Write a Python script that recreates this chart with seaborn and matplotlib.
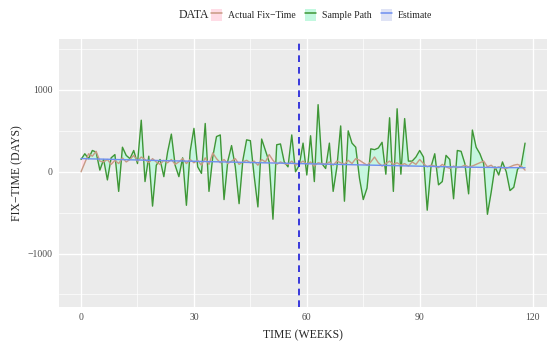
"""
Fix-time series: actual values, a simulated sample path and the estimate,
drawn in a ggplot-like style with seaborn.
"""

import numpy as np
import pandas as pd
import seaborn as sns
import matplotlib.pyplot as plt
from matplotlib.lines import Line2D
from matplotlib.patches import Patch

weeks = list(range(119))

actual = [0, 110, 220, 190, 250, 130, 120, 150, 90, 140,
          100, 170, 120, 150, 200, 130, 180, 150, 110, 160,
          120, 90, 140, 110, 150, 90, 120, 160, 100, 150,
          110, 140, 80, 170, 90, 230, 160, 110, 150, 100,
          130, 160, 90, 120, 140, 110, 130, 80, 150, 120,
          210, 140, 90, 120, 100, 90, 130, 80, 100, 130,
          90, 120, 70, 110, 100, 90, 120, 80, 130, 110,
          90, 140, 100, 160, 140, 110, 80, 120, 180, 110,
          70, 100, 130, 90, 110, 80, 100, 70, 120, 90,
          150, 100, 60, 80, 70, 50, 90, 60, 40, 70,
          50, 60, 80, 60, 70, 90, 110, 130, 60, 80,
          40, 60, 50, 40, 60, 80, 90, 70, 20]

sample = [150, 220, 160, 260, 240, 20, 150, -100, 170, 210,
          -240, 300, 200, 160, 260, 100, 630, -120, 190, -420,
          80, 150, -60, 240, 460, 80, -60, 170, -410, 250,
          530, 60, -20, 590, -240, 180, 430, 450, -340, 130,
          320, 60, -390, 140, 390, 380, -50, -430, 400, 260,
          120, -580, 330, 340, 120, 60, 450, 0, 80, 350,
          -40, 440, -120, 820, 100, 40, 350, -240, 60, 560,
          -360, 500, 350, 300, -80, -340, -200, 280, 270, 290,
          360, -30, 660, -240, 770, -30, 650, 130, 130, 180,
          260, 180, -470, 60, 220, -160, -120, 200, 150, -330,
          260, 250, 100, -270, 510, 300, 220, 100, -520, -250,
          60, -40, 120, 0, -230, -190, 30, 80, 350]

estimate = [162, 160, 158, 157, 156, 155, 154, 153, 152, 150,
            149, 148, 147, 146, 145, 144, 143, 141, 140, 139,
            138, 137, 136, 135, 134, 133, 132, 131, 130, 129,
            128, 127, 126, 125, 124, 123, 122, 121, 120, 119,
            118, 117, 116, 115, 114, 113, 112, 111, 110, 109,
            108, 107, 106, 105, 104, 103, 102, 101, 100, 99,
            98, 97, 96, 95, 94, 93, 92, 91, 90, 89,
            88, 87, 86, 85, 84, 83, 82, 81, 80, 79,
            78, 77, 76, 75, 74, 73, 72, 71, 70, 69,
            68, 67, 66, 65, 64, 63, 62, 61, 60, 59,
            58, 57, 56, 56, 55, 55, 54, 54, 53, 53,
            52, 52, 51, 51, 50, 50, 50, 49, 49]

series_names = ["Actual Fix-Time", "Sample Path", "Estimate"]
line_colors = ["#c79a84", "#3f9636", "#6e8ff0"]
fill_colors = ["#ffdce6", "#c2f8df", "#dfe3f5"]
change_week = 58


def main():
    df = pd.DataFrame({
        "week": weeks * 3,
        "value": actual + sample + estimate,
        "DATA": np.repeat(series_names, len(weeks)),
    })

    sns.set_theme(style="darkgrid", rc={
        "axes.facecolor": "#EBEBEB",
        "grid.color": "white",
        "xtick.color": "#333333",
        "ytick.color": "#333333",
    })
    plt.rcParams["font.family"] = ["Liberation Serif", "DejaVu Serif"]

    fig, ax = plt.subplots(figsize=(5.5, 3.47), dpi=100)
    fig.subplots_adjust(left=0.107, right=0.995, top=0.887, bottom=0.116)

    # ribbons between each series and the estimate
    est = np.array(estimate)
    ax.fill_between(weeks, actual, est, color=fill_colors[0], alpha=0.9,
                    lw=0, zorder=1)
    ax.fill_between(weeks, sample, est, color=fill_colors[1], alpha=0.9,
                    lw=0, zorder=1)

    sns.lineplot(data=df, x="week", y="value", hue="DATA",
                 hue_order=["Sample Path", "Actual Fix-Time", "Estimate"],
                 palette=dict(zip(series_names, line_colors)),
                 linewidth=1.0, ax=ax, legend=False, zorder=3)

    ax.axvline(change_week, color="#1a1ad8", ls=(0, (4, 3)), lw=1.2,
               zorder=4)

    ax.set_xlim(-5.9, 123.9)
    ax.set_ylim(-1650, 1620)
    ax.set_xticks([0, 30, 60, 90, 120])
    ax.set_yticks([-1000, 0, 1000])
    ax.set_xticks([15, 45, 75, 105], minor=True)
    ax.set_yticks([-1500, -500, 500, 1500], minor=True)
    ax.grid(which="major", color="white", lw=1.0)
    ax.grid(which="minor", color="white", lw=0.5)
    ax.tick_params(which="major", length=2.5, width=0.8, color="#333333",
                   labelsize=7, labelcolor="#4d4d4d", pad=2)
    ax.tick_params(which="minor", length=0)
    for s in ax.spines.values():
        s.set_visible(False)

    ax.set_xlabel("TIME (WEEKS)", fontsize=8.5, labelpad=5)
    ax.set_ylabel("FIX\u2212TIME (DAYS)", fontsize=8.5, labelpad=3)

    handles = [(Patch(facecolor=f, edgecolor="none"),
                Line2D([], [], color=c, lw=1.1))
               for f, c in zip(fill_colors, line_colors)]
    fig.legend(handles, ["Actual Fix\u2212Time", "Sample Path", "Estimate"],
               loc="center left", bbox_to_anchor=(0.384, 0.957), ncol=3,
               frameon=False, fontsize=7, handlelength=1.1,
               handleheight=1.6, columnspacing=1.0, handletextpad=0.6,
               borderpad=0, borderaxespad=0)
    fig.text(0.325, 0.957, "DATA", fontsize=8.5, va="center", ha="left")

    fig.savefig("out.png", dpi=100)


if __name__ == "__main__":
    main()
